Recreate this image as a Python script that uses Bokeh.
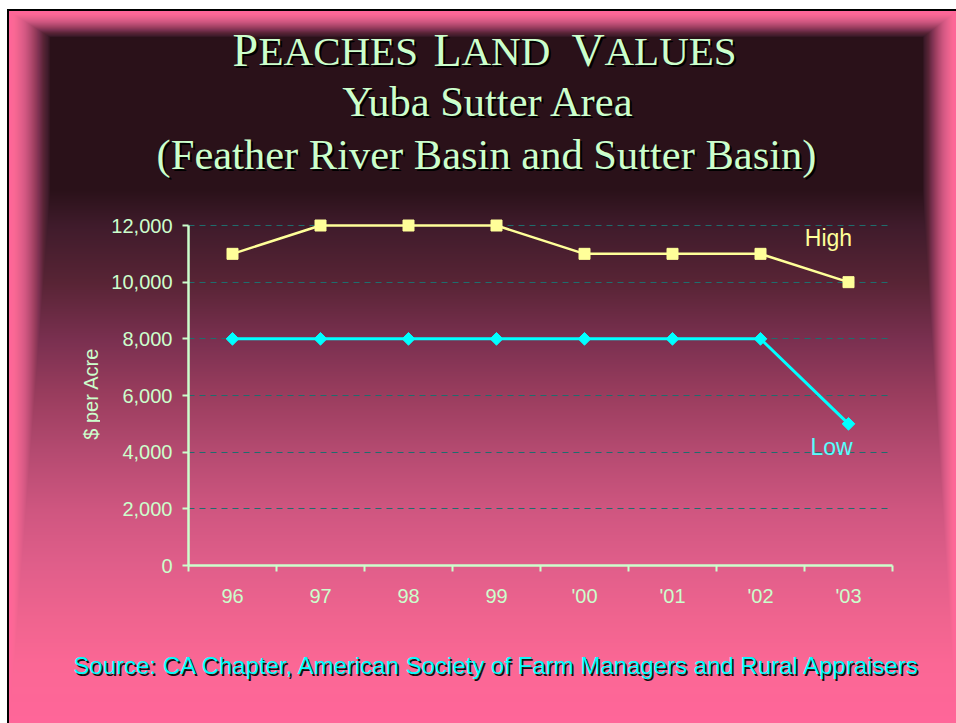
import math
import zlib
import struct
import base64
import numpy as np
from bokeh.plotting import figure
from bokeh.layouts import column, row
from bokeh.models import Label, FixedTicker, Range1d
from bokeh.embed import file_html
from bokeh.resources import INLINE

# ---------------- data ----------------
years = ["96", "97", "98", "99", "'00", "'01", "'02", "'03"]
high = [11000, 12000, 12000, 12000, 11000, 11000, 11000, 10000]
low = [8000, 8000, 8000, 8000, 8000, 8000, 8000, 5000]
y_ticks = [0, 2000, 4000, 6000, 8000, 10000, 12000]
y_tick_labels = ["0", "2,000", "4,000", "6,000", "8,000", "10,000", "12,000"]
series_names = ["High", "Low"]

title_parts = ["P", "EACHES", "L", "AND", "V", "ALUES"]
subtitle1 = "Yuba Sutter Area"
subtitle2 = "(Feather River Basin and Sutter Basin)"
source_text = "Source: CA Chapter, American Society of Farm Managers and Rural Appraisers"
y_title = "$ per Acre"

# ---------------- layout ----------------
W, H = 956, 723
TOP_H, MID_H = 200, 430
BOT_H = H - TOP_H - MID_H
LEFT_W = 100
FL, FR, FT, FB = 88, 64, 8, 65          # chart figure borders (chart spans x 100..956)
X_MAX = len(years)
Y_MAX = 12000
Y_TOP = 12600

GREEN = "#ccffcc"
YELLOW = "#ffff99"
CYAN = "#00ffff"
SANS = "Liberation Sans"
SERIF = "Liberation Serif"


# ---------------- slide background (shaded from the title area) ----------------
def hex_rgb(h):
    return [int(h[i:i + 2], 16) for i in (1, 3, 5)]


shade_y = [190, 225, 282, 340, 395, 450, 510, 565, 620, 665, 723]
shade_c = ["#2a1119", "#3f1b2b", "#582435", "#7a3050", "#9a3d5e", "#b44a70",
           "#cf5680", "#e05e8a", "#f0648f", "#fb6795", "#ff6699"]
Yg, Xg = np.mgrid[0:H, 0:W].astype(float)
t = np.maximum.reduce([(Yg - 190) / 533, (50 - Xg) / 41, (Xg - 922) / 34, (37 - Yg) / 26])
t = np.clip(t, 0, 1)
yeq = 190 + t * 533
cols = np.array([hex_rgb(c) for c in shade_c], dtype=float)
img = np.stack([np.interp(yeq, shade_y, cols[:, k]) for k in range(3)], axis=-1)
img[(Yg >= 9) & (Yg < 11) & (Xg >= 7)] = 0
img[(Xg >= 7) & (Xg < 9) & (Yg >= 9)] = 0
img[(Yg < 9) | (Xg < 7)] = 255
img = np.round(img).astype(np.uint8)


def png_b64(arr):
    h, w, _ = arr.shape
    raw = b"".join(b"\x00" + arr[i].tobytes() for i in range(h))

    def chunk(tag, data):
        c = struct.pack(">I", len(data)) + tag + data
        return c + struct.pack(">I", zlib.crc32(tag + data) & 0xFFFFFFFF)

    png = (b"\x89PNG\r\n\x1a\n" + chunk(b"IHDR", struct.pack(">IIBBBBB", w, h, 8, 2, 0, 0, 0))
           + chunk(b"IDAT", zlib.compress(raw, 9)) + chunk(b"IEND", b""))
    return base64.b64encode(png).decode()


bg_url = "url(data:image/png;base64," + png_b64(img) + ")"


def transparent(f):
    f.background_fill_alpha = 0
    f.border_fill_alpha = 0
    f.outline_line_color = None
    return f


def text_fig(w, h):
    f = figure(width=w, height=h, x_range=Range1d(0, w), y_range=Range1d(h, 0),
               output_backend="svg", toolbar_location=None, x_axis_type=None,
               y_axis_type=None, min_border=0, title=None)
    f.grid.visible = False
    return transparent(f)


def add_text(f, txt, px, py, size, color, font, align="left", baseline="alphabetic",
             shadow=None, angle=0.0, dx=2, dy=2):
    if shadow:
        f.add_layout(Label(x=px + dx, y=py + dy, text=txt, text_color=shadow, text_font=font,
                           text_font_size=size, text_align=align, text_baseline=baseline,
                           angle=angle))
    f.add_layout(Label(x=px, y=py, text=txt, text_color=color, text_font=font,
                       text_font_size=size, text_align=align, text_baseline=baseline,
                       angle=angle))


# ---------------- title block ----------------
top = text_fig(W, TOP_H)
BIG, SMALL = 46, 41
title_x = [232, 258, 433, 461, 571, 604]
for i, (txt, x0) in enumerate(zip(title_parts, title_x)):
    add_text(top, txt, x0, 50, f"{BIG if i % 2 == 0 else SMALL}px", GREEN, SERIF, shadow="#000000")
add_text(top, subtitle1, 488, 101, "42.5px", GREEN, SERIF, align="center", shadow="#000000")
add_text(top, subtitle2, 486, 154, "42.5px", GREEN, SERIF, align="center", shadow="#000000")

# ---------------- y axis title strip ----------------
left = text_fig(LEFT_W, MID_H)
add_text(left, y_title, 90, 223, "20px", GREEN, SANS, align="center",
         baseline="middle", angle=math.pi / 2)

# ---------------- chart ----------------
p = figure(width=W - LEFT_W, height=MID_H, x_range=Range1d(0, X_MAX), y_range=Range1d(0, Y_TOP),
           output_backend="svg", toolbar_location=None,
           min_border_left=FL, min_border_right=FR, min_border_top=FT, min_border_bottom=FB)
transparent(p)

xs = [i + 0.5 for i in range(len(years))]

xa = p.xaxis[0]
xa.ticker = FixedTicker(ticks=xs, minor_ticks=list(range(X_MAX + 1)))
xa.major_label_overrides = {x: lab for x, lab in zip(xs, years)}
xa.major_tick_out = 0
xa.major_tick_in = 0
xa.minor_tick_out = 6
xa.minor_tick_in = 0
xa.minor_tick_line_color = GREEN
xa.minor_tick_line_width = 2
xa.axis_line_color = GREEN
xa.axis_line_width = 2.5
xa.major_label_standoff = 13
xa.major_label_text_color = GREEN
xa.major_label_text_font = SANS
xa.major_label_text_font_size = "20px"

ya = p.yaxis[0]
ya.ticker = FixedTicker(ticks=y_ticks)
ya.major_label_overrides = {tk: lab for tk, lab in zip(y_ticks, y_tick_labels)}
ya.bounds = (0, Y_MAX)
ya.major_tick_out = 6
ya.major_tick_in = 0
ya.major_tick_line_color = GREEN
ya.major_tick_line_width = 2
ya.minor_tick_line_color = None
ya.axis_line_color = GREEN
ya.axis_line_width = 2.5
ya.major_label_standoff = 10
ya.major_label_text_color = GREEN
ya.major_label_text_font = SANS
ya.major_label_text_font_size = "20px"

p.xgrid.visible = False
p.ygrid.ticker = FixedTicker(ticks=y_ticks[1:])
p.ygrid.grid_line_color = "#1f6d6d"
p.ygrid.grid_line_dash = "6 5"
p.ygrid.grid_line_width = 1

p.line(xs, high, line_color=YELLOW, line_width=2.5)
p.scatter(xs, high, marker="square", size=11, fill_color=YELLOW, line_color=YELLOW)
p.line(xs, low, line_color=CYAN, line_width=3)
p.scatter(xs, low, marker="square", angle=math.pi / 4, size=9, fill_color=CYAN, line_color=CYAN)

p.add_layout(Label(x=xs[-1], y=high[-1], x_offset=-20, y_offset=44, text=series_names[0],
                   text_color=YELLOW, text_font=SANS, text_font_size="23px",
                   text_align="center", text_baseline="middle"))
p.add_layout(Label(x=xs[-1], y=low[-1], x_offset=-17, y_offset=-23, text=series_names[1],
                   text_color="#55ffff", text_font=SANS, text_font_size="23px",
                   text_align="center", text_baseline="middle"))

# ---------------- source line ----------------
bot = text_fig(W, BOT_H)
add_text(bot, source_text, 497, 665 - TOP_H - MID_H, "24px", CYAN, SANS, align="center",
         baseline="middle", shadow="#111111", dx=1.5, dy=1.5)

layout = column(top, row(left, p, spacing=0), bot, spacing=0,
                styles={"background-image": bg_url, "background-repeat": "no-repeat",
                        "background-size": f"{W}px {H}px"})

open("out.html", "w").write(file_html(layout, INLINE))
